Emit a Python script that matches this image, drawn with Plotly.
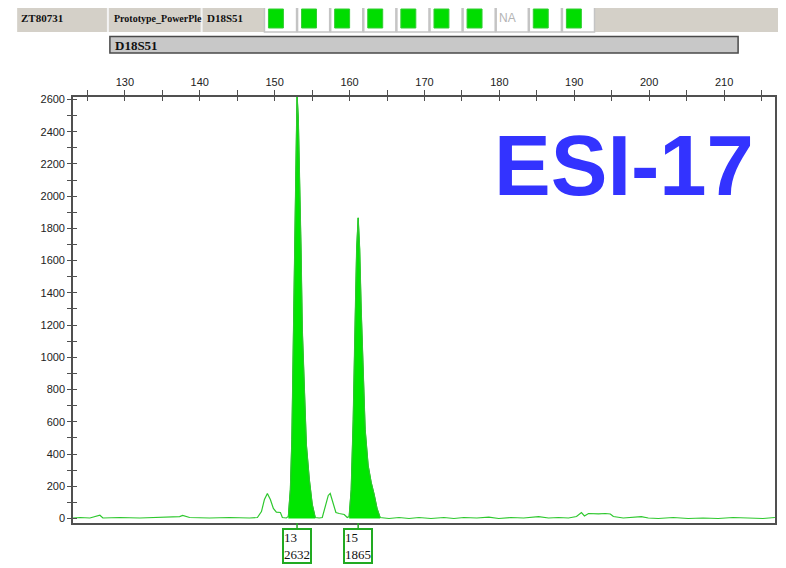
import plotly.graph_objects as go

# ---------------- data ----------------
trace_bp = [123.08, 124.01, 125.34, 126.67, 127.07, 129.33, 132.00, 134.66, 137.32, 137.72,
            138.65, 141.31, 143.98, 146.64, 147.70, 148.24, 148.64, 149.03, 149.43, 149.83,
            150.23, 150.77, 151.03, 151.56,
            151.83, 152.10, 152.30, 152.50, 152.67, 152.86, 152.99, 153.16, 153.36, 153.52,
            153.69, 153.96, 154.23, 154.63, 155.02, 155.42,
            155.96, 156.36, 156.76, 157.16, 157.42, 157.69, 158.18, 158.62, 159.29, 159.69,
            159.95, 160.22, 160.49, 160.75, 160.95, 161.15, 161.35, 161.55, 161.82, 162.08,
            162.48, 162.88, 163.28, 163.68, 164.08,
            165.27, 166.61, 167.94, 169.27, 170.87, 172.60, 173.93, 175.26, 176.99, 178.59,
            179.92, 181.51, 183.24, 185.24, 186.57, 187.90, 189.23, 190.30, 190.96, 191.36,
            191.90, 193.23, 194.16, 194.82, 195.22, 196.55, 197.89, 198.95, 199.88, 201.21,
            203.21, 205.21, 207.20, 209.20, 211.20, 213.19, 215.19, 216.79]
trace_rfu = [3, 6, 3, 20, 3, 6, 3, 6, 12, 19,
             6, 3, 6, 3, 6, 43, 118, 155, 118, 62,
             39, 37, 6, 3,
             12, 180, 491, 1112, 1610, 2355, 2632, 2480, 2107, 1672,
             1175, 740, 460, 242, 87, 6,
             3, 6, 68, 143, 155, 118, 37, 31, 25, 6,
             12, 180, 615, 1237, 1672, 1865, 1672, 1300, 864, 553,
             330, 225, 150, 60, 6,
             0, 6, 0, 6, 0, 6, 0, 6, 3, 9,
             0, 6, 3, 12, 3, 6, 3, 12, 37, 16,
             31, 28, 31, 28, 12, 3, 6, 12, 3, 0,
             6, 0, 3, 0, 6, 3, 0, 6]

# called peaks (filled): index ranges into the trace arrays
peak_ranges = [(24, 39), (50, 64)]
allele_names = ["13", "15"]
allele_bp = [152.99, 161.15]
allele_height = [2632, 1865]

x_range = [123.08, 216.8]
y_range = [-28, 2615]
x_ticks = [130, 140, 150, 160, 170, 180, 190, 200, 210]
y_ticks = [0, 200, 400, 600, 800, 1000, 1200, 1400, 1600, 1800, 2000, 2200, 2400, 2600]

sample_name = "ZT80731"
panel_name = "Prototype_PowerPle"
marker_name = "D18S51"
call_status = ["ok", "ok", "ok", "ok", "ok", "ok", "ok", "NA", "ok", "ok"]
big_label = "ESI-17"

# ---------------- figure ----------------
OFF = 8  # page body margin
W, H = 786 - OFF, 568 - OFF
L = 73 - OFF
T = 97 - OFF
R = W - (777 - OFF)
B = H - (523 - OFF)
PW, PH = W - L - R, H - T - B


def xp(px):
    return (px - OFF - L) / PW


def yp(py):
    return (H - B - (py - OFF)) / PH


AXC = "#505050"
LINE_GREEN = "#2ec82e"
FILL_GREEN = "#00e600"

fig = go.Figure()

for (i0, i1) in peak_ranges:
    fig.add_trace(go.Scatter(x=trace_bp[i0:i1 + 1], y=trace_rfu[i0:i1 + 1], mode="lines",
                             line=dict(color="#00c800", width=1), fill="tozeroy",
                             fillcolor=FILL_GREEN, hoverinfo="skip", showlegend=False))

fig.add_trace(go.Scatter(x=trace_bp, y=trace_rfu, mode="lines",
                         line=dict(color=LINE_GREEN, width=1.2), showlegend=False))

# dummy trace for the inner-tick overlay axes
fig.add_trace(go.Scatter(x=[None], y=[None], xaxis="x2", yaxis="y2", showlegend=False))

tickfont = dict(family="Liberation Sans Narrow, Liberation Sans", size=11, color="#222222")

fig.update_layout(
    width=W, height=H,
    margin=dict(l=L, r=R, t=T, b=B),
    paper_bgcolor="white", plot_bgcolor="white",
    xaxis=dict(range=x_range, side="top", showgrid=False, zeroline=False,
               showline=True, linecolor=AXC, linewidth=1.6, mirror=True,
               tickvals=x_ticks, ticks="outside", ticklen=5, tickwidth=1, tickcolor=AXC,
               minor=dict(dtick=5, tick0=0, ticks="outside", ticklen=5, tickwidth=1, tickcolor=AXC),
               tickfont=tickfont),
    yaxis=dict(range=y_range, showgrid=False, zeroline=False,
               showline=True, linecolor=AXC, linewidth=1.6, mirror=True,
               tickvals=y_ticks, ticks="outside", ticklen=4, tickwidth=1, tickcolor=AXC,
               minor=dict(dtick=100, tick0=0, ticks="outside", ticklen=4, tickwidth=1, tickcolor=AXC),
               tickfont=tickfont),
    xaxis2=dict(range=x_range, overlaying="x", side="top", showgrid=False, zeroline=False,
                showticklabels=False, tickvals=x_ticks, ticks="inside", ticklen=4, tickwidth=1,
                tickcolor=AXC,
                minor=dict(dtick=5, tick0=0, ticks="inside", ticklen=4, tickwidth=1, tickcolor=AXC)),
    yaxis2=dict(range=y_range, overlaying="y", side="left", showgrid=False, zeroline=False,
                showticklabels=False, tickvals=y_ticks, ticks="inside", ticklen=4, tickwidth=1,
                tickcolor=AXC,
                minor=dict(dtick=100, tick0=0, ticks="inside", ticklen=4, tickwidth=1, tickcolor=AXC)),
)

shapes = []
annotations = []

# header row
shapes.append(dict(type="rect", xref="paper", yref="paper", x0=xp(17), x1=xp(800), y0=yp(32), y1=yp(5),
                   fillcolor="#d4d0c8", line=dict(width=0), layer="above"))
for sx in [108, 202]:
    shapes.append(dict(type="line", xref="paper", yref="paper", x0=xp(sx), x1=xp(sx), y0=yp(32), y1=yp(5),
                       line=dict(color="#f4f4f4", width=2)))
for txt, tx, fs in [(sample_name, 19, 11), (panel_name, 112, 10), (marker_name, 205, 11)]:
    annotations.append(dict(text="<b>%s</b>" % txt, xref="paper", yref="paper", x=xp(tx), y=yp(18),
                            xanchor="left", yanchor="middle", showarrow=False,
                            font=dict(family="Liberation Serif", size=fs, color="#111111")))
cell_w = 33.2
for i, st in enumerate(call_status):
    x0 = 265 + i * cell_w
    shapes.append(dict(type="rect", xref="paper", yref="paper", x0=xp(x0), x1=xp(x0 + cell_w - 1),
                       y0=yp(32), y1=yp(5), fillcolor="white", line=dict(color="#c4c4c4", width=1.5)))
    if st == "ok":
        shapes.append(dict(type="rect", xref="paper", yref="paper", x0=xp(x0 + 4), x1=xp(x0 + 19),
                           y0=yp(28), y1=yp(9), fillcolor="#00dd00", line=dict(color="#33cc33", width=1)))
    else:
        annotations.append(dict(text=st, xref="paper", yref="paper", x=xp(x0 + 1), y=yp(18),
                                xanchor="left", yanchor="middle", showarrow=False,
                                font=dict(family="Liberation Sans", size=12, color="#b4b4b4")))

# marker bar
shapes.append(dict(type="rect", xref="paper", yref="paper", x0=xp(110), x1=xp(740), y0=yp(53), y1=yp(36.5),
                   fillcolor="#c8c8c8", line=dict(color="#4a4a4a", width=1.5)))
annotations.append(dict(text="<b>%s</b>" % marker_name, xref="paper", yref="paper", x=xp(113), y=yp(45),
                        xanchor="left", yanchor="middle", showarrow=False,
                        font=dict(family="Liberation Serif", size=13, color="#111111")))

# big label
annotations.append(dict(text="<b>%s</b>" % big_label, xref="paper", yref="paper", x=xp(626), y=yp(165),
                        xanchor="center", yanchor="middle", showarrow=False,
                        font=dict(family="Liberation Sans", size=85, color="#3333ff")))

# allele call boxes
for name, bp, h in zip(allele_names, allele_bp, allele_height):
    shapes.append(dict(type="line", xref="x", yref="paper", x0=bp, x1=bp, y0=yp(523), y1=yp(528.5),
                       line=dict(color="#22aa22", width=1.5)))
    annotations.append(dict(text="%s<br>%d" % (name, h), xref="x", yref="paper", x=bp, y=yp(528),
                            xanchor="center", yanchor="top", showarrow=False, align="left",
                            bgcolor="white", bordercolor="#22aa22", borderwidth=2, borderpad=0,
                            font=dict(family="Liberation Serif", size=13, color="#111111")))

fig.update_layout(shapes=shapes, annotations=annotations)
fig.write_html("out.html")
